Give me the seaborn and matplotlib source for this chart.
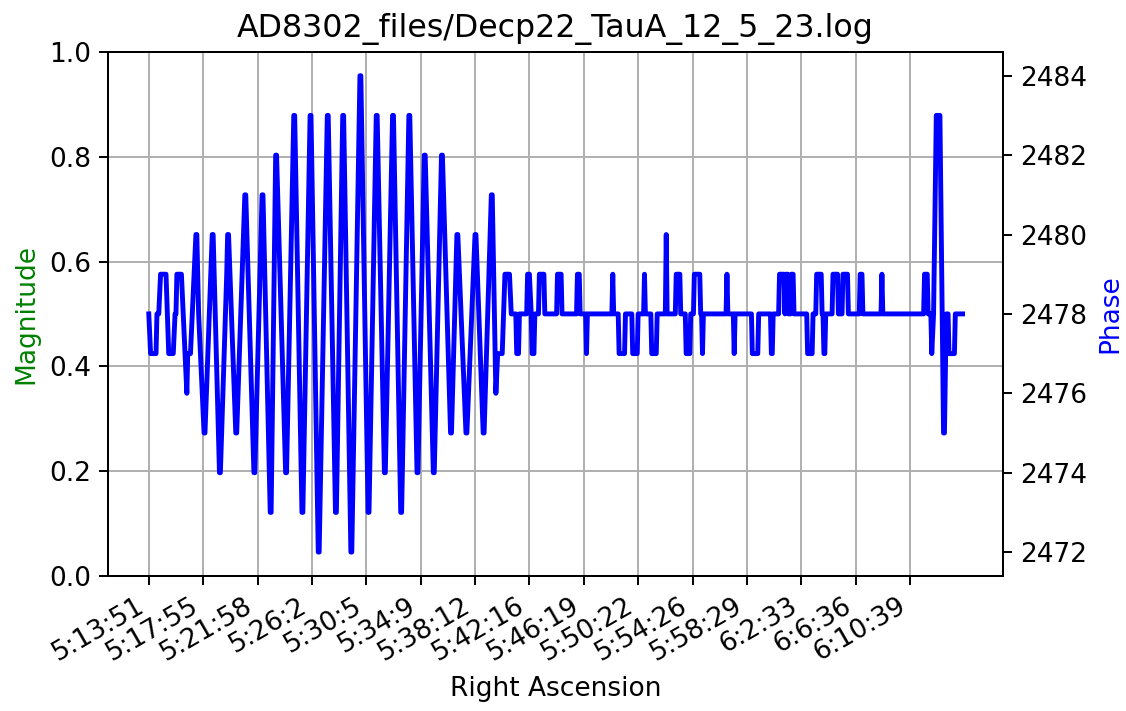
import numpy as np
import pandas as pd
import matplotlib
matplotlib.use('Agg')
import matplotlib.pyplot as plt
import seaborn as sns

# --- 1. DATA ---
log_name = 'AD8302_files/Decp22_TauA_12_5_23.log'

# sample index of each vertex and phase reading there
ra_idx = [0, 2, 8, 9, 11, 13, 19, 22, 27, 29, 30, 31, 36, 38, 40, 42, 43, 46, 48, 52, 53, 55,
          61, 62, 70, 71, 78, 79, 86, 87, 88, 96, 97, 106, 107, 116, 117, 125, 126, 134, 135,
          140, 141, 151, 152, 160, 161, 169, 170, 178, 179, 187, 188, 197, 198, 206, 207, 214,
          215, 223, 224, 233, 234, 242, 243, 251, 252, 260, 261, 269, 270, 278, 279, 287, 288,
          296, 297, 304, 305, 314, 315, 323, 324, 333, 334, 340, 341, 350, 351, 360, 361, 369,
          370, 378, 379, 383, 385, 390, 393, 398, 400, 405, 406, 408, 409, 417, 418, 420, 422,
          423, 425, 426, 430, 431, 436, 437, 450, 451, 455, 456, 472, 473, 475, 476, 482, 483,
          484, 511, 512, 513, 518, 519, 525, 526, 533, 534, 539, 540, 546, 547, 548, 554, 555,
          560, 561, 570, 571, 572, 581, 582, 586, 587, 592, 593, 597, 598, 601, 602, 608, 609,
          610, 611, 612, 637, 638, 639, 645, 646, 647, 665, 666, 672, 673, 686, 687, 688, 689,
          695, 696, 701, 702, 703, 705, 706, 708, 709, 711, 712, 726, 727, 732, 733, 736, 737,
          742, 743, 744, 745, 746, 747, 754, 755, 760, 761, 765, 766, 771, 772, 784, 785, 787,
          788, 808, 809, 810, 855, 856, 859, 860, 863, 864, 866, 869, 873, 877, 878, 880, 882,
          883, 889, 890, 898]
phase = [2478, 2477, 2477, 2478, 2478, 2479, 2479, 2477, 2477, 2478, 2478, 2479, 2479, 2478, 2477,
         2476, 2477, 2477, 2478, 2480, 2480, 2478, 2475, 2475, 2480, 2480, 2474, 2474, 2479, 2480,
         2480, 2475, 2475, 2481, 2481, 2474, 2474, 2481, 2481, 2473, 2473, 2482, 2482, 2474, 2474,
         2483, 2483, 2473, 2473, 2483, 2483, 2472, 2472, 2483, 2483, 2473, 2473, 2483, 2483, 2472,
         2472, 2484, 2484, 2473, 2473, 2483, 2483, 2474, 2474, 2483, 2483, 2473, 2473, 2483, 2483,
         2474, 2474, 2482, 2482, 2474, 2474, 2482, 2482, 2475, 2475, 2480, 2480, 2475, 2475, 2480,
         2480, 2475, 2475, 2481, 2481, 2476, 2477, 2477, 2479, 2479, 2478, 2478, 2477, 2477, 2478,
         2478, 2479, 2479, 2478, 2477, 2477, 2478, 2478, 2479, 2479, 2478, 2478, 2479, 2479, 2478,
         2478, 2479, 2479, 2478, 2478, 2477, 2478, 2478, 2479, 2478, 2478, 2477, 2477, 2478, 2478,
         2477, 2477, 2478, 2478, 2479, 2478, 2478, 2477, 2477, 2478, 2478, 2480, 2478, 2478, 2479,
         2479, 2478, 2478, 2477, 2477, 2478, 2478, 2479, 2479, 2478, 2478, 2477, 2478, 2478, 2479,
         2478, 2478, 2477, 2478, 2478, 2477, 2477, 2478, 2478, 2477, 2477, 2478, 2478, 2479, 2479,
         2478, 2479, 2479, 2478, 2478, 2479, 2479, 2478, 2478, 2477, 2477, 2478, 2478, 2479, 2479,
         2478, 2478, 2477, 2477, 2478, 2478, 2479, 2479, 2478, 2478, 2479, 2479, 2478, 2478, 2479,
         2479, 2478, 2478, 2479, 2478, 2478, 2479, 2479, 2478, 2478, 2477, 2478, 2483, 2483, 2475,
         2475, 2478, 2478, 2477, 2477, 2478, 2478]

# RA labels, one every 60 samples
ra_labels = ['5:13:51', '5:17:55', '5:21:58', '5:26:2', '5:30:5', '5:34:9', '5:38:12',
             '5:42:16', '5:46:19', '5:50:22', '5:54:26', '5:58:29', '6:2:33', '6:6:36',
             '6:10:39']
tick_step = 60

df = pd.DataFrame({'idx': ra_idx, 'phase': phase})

# --- 2. PLOT ---
plt.rcParams['font.size'] = 10.8
fig, ax = plt.subplots(figsize=(1126 / 176, 711 / 176), dpi=176)
fig.subplots_adjust(left=0.096, right=0.891, top=0.927, bottom=0.19)

ax2 = ax.twinx()
sns.lineplot(data=df, x='idx', y='phase', ax=ax2, color='b', linewidth=2.0,
             estimator=None, sort=False)

ax.set_ylim(0, 1)
ax.set_xticks(np.arange(len(ra_labels)) * tick_step)
ax.set_xticklabels(ra_labels, rotation=30, ha='right')
ax.grid(True)

ax.set_title(log_name)
ax.set_xlabel('Right Ascension')
ax.set_ylabel('Magnitude', color='g')
ax2.set_ylabel('Phase', color='b')
ax2.set_xlabel('')

fig.savefig('out.png', dpi=176)
